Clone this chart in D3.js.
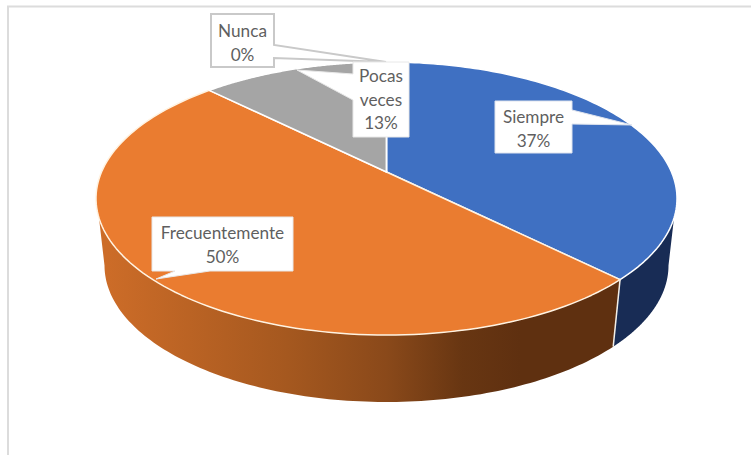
<!DOCTYPE html>
<html><head><meta charset="utf-8">
<script src="https://cdn.jsdelivr.net/npm/d3@7"></script>
<style>html,body{margin:0;padding:0;background:#fff}svg{display:block}</style>
</head><body><div id="c"></div>
<script>
const categories = ["Siempre","Frecuentemente","Pocas veces","Nunca"];
const values = [37.5,50,12.5,0];
const percentLabels = ["37%","50%","13%","0%"];
const topColors = ["#3f70c2","#ea7c30","#a5a5a5","#ffc000"];

const W=751,H=455;
const svg=d3.select("#c").append("svg").attr("width",W).attr("height",H);
const defs=svg.append("defs");
const topDisc={cx:386.5,cy:198.5,rx:290.5,ry:136.5};
const botDisc={cx:386.5,cy:265.5,rx:282,ry:136.5};
const tilt=-0.194;
function proj(a,d){
  const x=Math.sin(a),y=-Math.cos(a);
  const den=1+tilt*y;
  const px=x*Math.sqrt(1-tilt*tilt)/den, py=(y+tilt)/den;
  const X=d3.scaleLinear().domain([-1,1]).range([d.cx-d.rx,d.cx+d.rx]);
  const Y=d3.scaleLinear().domain([-1,1]).range([d.cy-d.ry,d.cy+d.ry]);
  return [X(px),Y(py)];
}
// angle on the right-hand half whose projected rim point sits at normalised height u
function angleAt(u){return Math.acos(-(u-tilt)/(1-tilt*u));}
const apex=[386.5,172];
const pie=d3.pie().sort(null).startAngle(0).endAngle(2*Math.PI);
const arcs=pie(values);
const line=d3.line();
function samples(a0,a1,n=120){return d3.range(n+1).map(i=>a0+(a1-a0)*i/n);}

// frame
svg.append("path").attr("d","M751,6.5H8V455").attr("fill","none").attr("stroke","#dcdcdc").attr("stroke-width",2);

// side wall
function grad(id,stops){
  const g=defs.append("linearGradient").attr("id",id).attr("gradientUnits","userSpaceOnUse")
    .attr("x1",96).attr("x2",677).attr("y1",0).attr("y2",0);
  stops.forEach(s=>g.append("stop").attr("offset",s[0]).attr("stop-color",s[1]));
}
grad("sideO",[[0.02,"#cc6c28"],[0.33,"#a5581f"],[0.5,"#8a491a"],[0.63,"#683612"],[0.73,"#5f3010"],[1,"#5f3010"]]);
grad("sideB",[[0,"#182c55"],[1,"#182c55"]]);

const silTop=0.143, silBot=0;
const rT=angleAt(silTop), rB=angleAt(silBot), lT=2*Math.PI-rT, lB=2*Math.PI-rB;
function sidePath(t0,t1,b0,b1){
  const t=samples(t0,t1).map(a=>proj(a,topDisc));
  const b=samples(b1,b0).map(a=>proj(a,botDisc));
  return line(t.concat(b))+"Z";
}
const blue=arcs[0], orange=arcs[1];
svg.append("path").attr("d",sidePath(rT,blue.endAngle,rB,blue.endAngle)).attr("fill","url(#sideB)");
svg.append("path").attr("d",sidePath(orange.startAngle,lT,orange.startAngle,lB)).attr("fill","url(#sideO)");
// seam on the side
const sT=proj(orange.startAngle,topDisc), sB=proj(orange.startAngle,botDisc);
svg.append("path").attr("d",line([sT,sB])).attr("stroke","#f3efe8").attr("stroke-width",1.5).attr("fill","none");

// top
svg.selectAll("path.slice").data(arcs).enter().append("path").attr("class","slice")
  .attr("d",d=>line([apex].concat(samples(d.startAngle,d.endAngle).map(a=>proj(a,topDisc))))+"Z")
  .attr("fill",(d,i)=>topColors[i])
  .attr("stroke",(d,i)=>i===1?"#fff3e2":"#ffffff").attr("stroke-width",1.5).attr("stroke-linejoin","round");

// callouts
const boxes=[
 {i:3,x:211,y:14,w:63,h:53,pts:[[274,45],[386,62],[274,58]],stroke:"#c9c9c9",sw:2,lines:["Nunca"],ty:37},
 {i:2,x:353,y:62,w:56,h:75,pts:[[353,74],[297,70],[353,100]],stroke:"#e8e8e8",sw:1,lines:["Pocas","veces"],ty:82},
 {i:0,x:495,y:101,w:77,h:52,pts:[[572,110],[632,125],[572,124]],stroke:"#dfe4ee",sw:1,lines:["Siempre"],ty:123},
 {i:1,x:152,y:217,w:141,h:54,pts:[[175,271],[156,279],[210,271]],stroke:"#e8e8e8",sw:1,lines:["Frecuentemente"],ty:239}
];
boxes.forEach(b=>{
  const g=svg.append("g");
  const [p0,tip,p1]=b.pts;
  let outline;
  if(b.i===1) outline=[[b.x,b.y],[b.x+b.w,b.y],[b.x+b.w,b.y+b.h],p1,tip,p0,[b.x,b.y+b.h]];
  else if(b.i===2) outline=[[b.x,b.y],[b.x+b.w,b.y],[b.x+b.w,b.y+b.h],[b.x,b.y+b.h],p1,tip,p0];
  else outline=[[b.x,b.y],[b.x+b.w,b.y],p0,tip,p1,[b.x+b.w,b.y+b.h],[b.x,b.y+b.h]];
  g.append("path").attr("d",line(outline)+"Z").attr("fill","#fff").attr("stroke",b.stroke).attr("stroke-width",b.sw);
  const cx=b.x+b.w/2;
  const rows=b.lines.concat([percentLabels[b.i]]);
  const t=g.append("text").attr("text-anchor","middle").attr("fill","#5f5f5f")
    .style("font-family","Lato, 'Open Sans', sans-serif").style("font-size","17.2px");
  rows.forEach((r,k)=>t.append("tspan").attr("x",cx).attr("y",b.ty+k*23.7).text(r));
});
</script></body></html>
